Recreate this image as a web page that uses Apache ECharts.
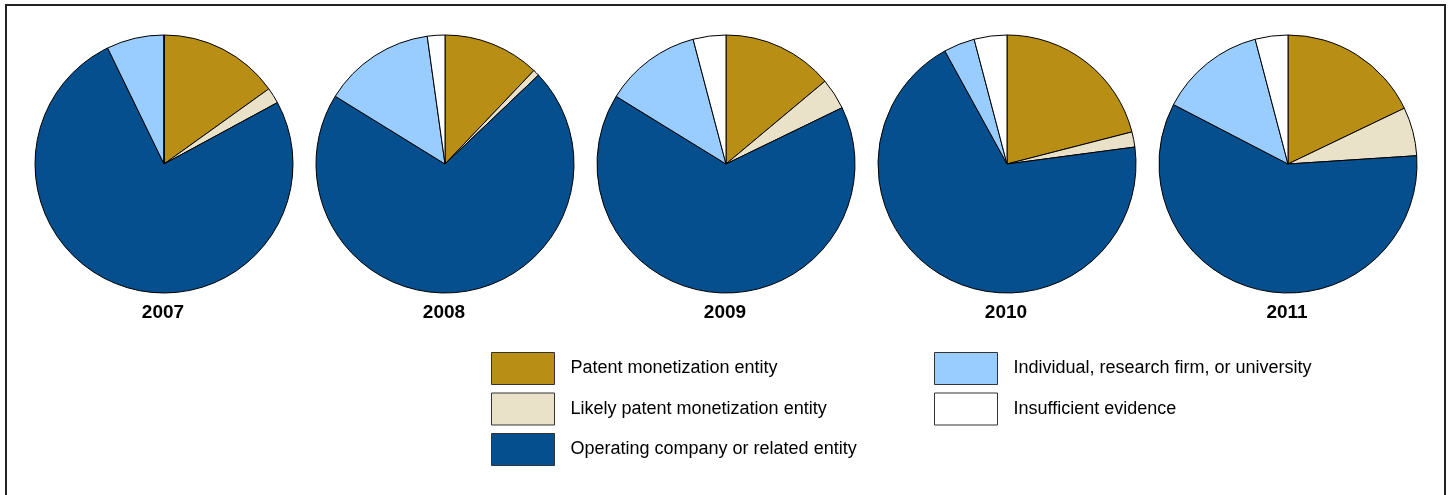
<!DOCTYPE html>
<html>
<head>
<meta charset="utf-8">
<script src="https://cdn.jsdelivr.net/npm/echarts@6/dist/echarts.min.js"></script>
<style>
  html, body { margin: 0; padding: 0; background: #fff; }
  #main { width: 1449px; height: 495px; }
</style>
</head>
<body>
<div id="main"></div>
<script>
// share of litigants (%) per year, clockwise from 12 o'clock
const years = ['2007', '2008', '2009', '2010', '2011'];
const categories = [
  'Patent monetization entity',
  'Likely patent monetization entity',
  'Operating company or related entity',
  'Individual, research firm, or university',
  'Insufficient evidence'
];
const patentMonetization = [15.1, 12.1, 13.9, 21.0, 17.9];
const likelyPatentMonetization = [2.0, 0.8, 3.9, 1.9, 6.1];
const operatingCompany = [75.7, 70.9, 65.9, 69.1, 58.7];
const individualResearch = [7.2, 14.0, 12.1, 3.9, 13.3];
const insufficientEvidence = [0, 2.2, 4.1, 4.1, 4.1];

const colors = ['#B98E15', '#EAE2C8', '#054F8F', '#99CCFF', '#FFFFFF'];
const font = '"Liberation Sans", Arial, sans-serif';

var chartDom = document.getElementById('main');
var myChart = echarts.init(chartDom);

var series = [];
var titles = [];
years.forEach(function (yr, i) {
  var cx = 164 + i * 281;
  var vals = [patentMonetization[i], likelyPatentMonetization[i], operatingCompany[i],
              individualResearch[i], insufficientEvidence[i]];
  series.push({
    name: yr,
    type: 'pie',
    center: [cx, 164],
    radius: [0, 129],
    startAngle: 90,
    clockwise: true,
    label: { show: false },
    labelLine: { show: false },
    emphasis: { disabled: true },
    itemStyle: { borderColor: '#000', borderWidth: 1 },
    data: categories.map(function (c, k) {
      return { name: c, value: vals[k], itemStyle: { color: colors[k] } };
    })
  });
  titles.push({
    text: yr,
    left: cx - 1,
    top: 303,
    padding: 0,
    textAlign: 'center',
    textStyle: { fontFamily: font, fontSize: 19, fontWeight: 'bold', color: '#000' }
  });
});

var legendBase = {
  orient: 'vertical',
  top: 352,
  padding: 0,
  itemWidth: 63,
  itemHeight: 32,
  itemGap: 7.5,
  icon: 'rect',
  selectedMode: false,
  textStyle: { fontFamily: font, fontSize: 18, color: '#000', padding: [5, 0, 0, 11] },
  itemStyle: { borderColor: '#333', borderWidth: 1 }
};

var option = {
  animation: false,
  color: colors,
  title: titles,
  legend: [
    Object.assign({}, legendBase, { left: 491, data: categories.slice(0, 3) }),
    Object.assign({}, legendBase, { left: 934, data: categories.slice(3) })
  ],
  graphic: [{
    type: 'rect',
    shape: { x: 6, y: 5, width: 1439, height: 500 },
    style: { fill: 'none', stroke: '#222', lineWidth: 2 },
    silent: true
  }],
  series: series
};

option && myChart.setOption(option);
</script>
</body>
</html>
